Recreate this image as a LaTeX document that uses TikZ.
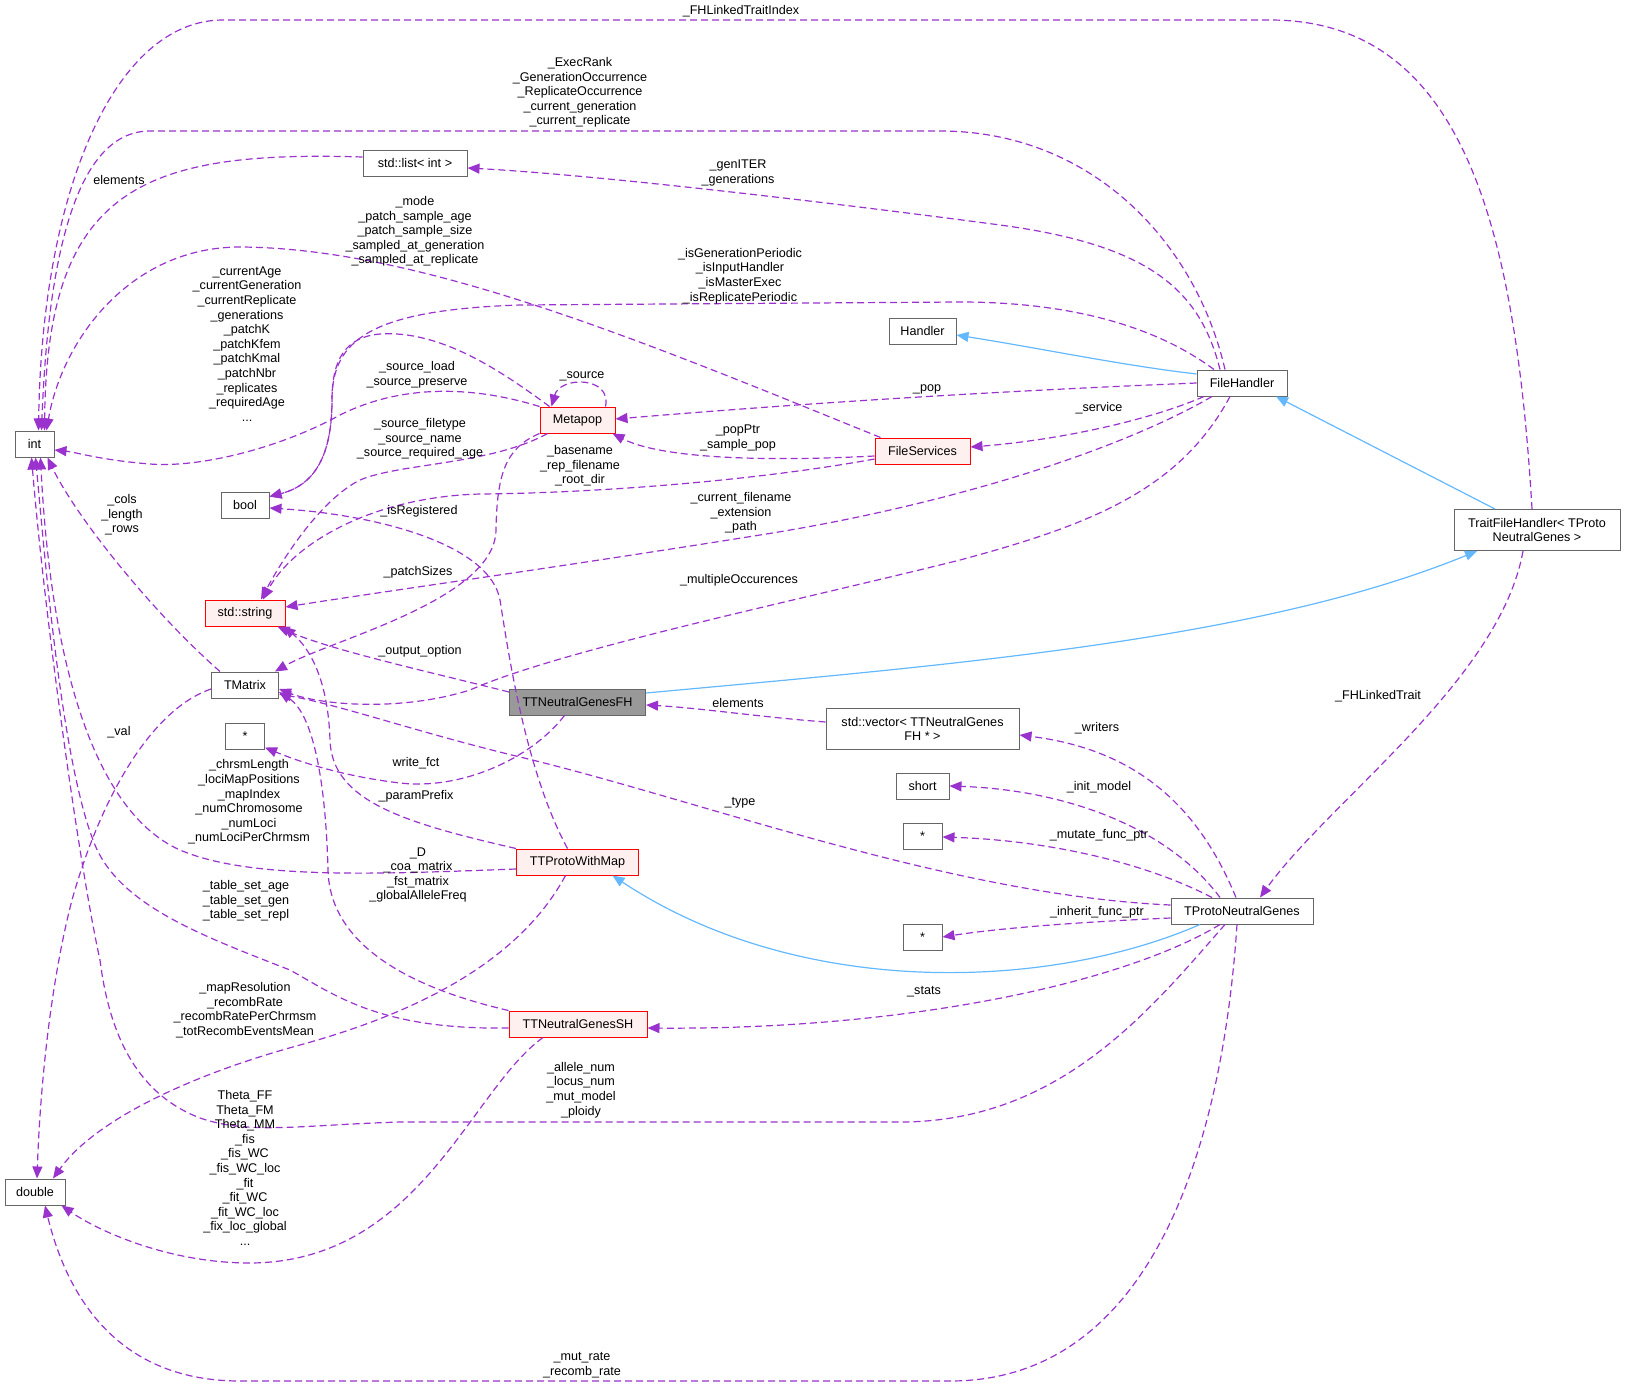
\documentclass[tikz,border=0pt]{standalone}
\usepackage{fontspec}
\setmainfont{Liberation Sans}
\usepackage{tikz}
\usetikzlibrary{arrows.meta}

\definecolor{usepurple}{HTML}{9A32CD}
\definecolor{inhblue}{HTML}{63B8FF}
\definecolor{boxgrey}{HTML}{666666}
\definecolor{undocred}{HTML}{FF0000}
\definecolor{undocfill}{HTML}{FFF0F0}
\definecolor{focusfill}{HTML}{999999}
\newcommand\dxfont{\fontsize{12.6}{14.6}\selectfont}

\begin{document}
\begin{tikzpicture}[x=1pt,y=-1pt,
    cls/.style={draw=boxgrey, fill=white, line width=1pt, font=\dxfont, inner sep=0pt, minimum height=26pt, align=center},
    undoc/.style={cls, draw=undocred, fill=undocfill},
    focus/.style={cls, fill=focusfill},
    usage/.style={draw=usepurple, line width=1.2pt, dash pattern=on 7pt off 4pt, -{Triangle[length=12pt,width=10pt]}},
    inherit/.style={draw=inhblue, line width=1.2pt, -{Triangle[length=12pt,width=10pt]}},
    lbl/.style={font=\dxfont, align=center, inner sep=0pt}]
    \useasboundingbox (0,0) rectangle (1625,1387);

    % classes
    \node[cls, minimum width=39pt] (int) at (34.5,444) {int};
    \node[cls, minimum width=60pt] (double) at (35,1192) {double};
    \node[cls, minimum width=48pt] (bool) at (245,505) {bool};
    \node[cls, minimum width=104pt] (list) at (415,163) {std::list< int >};
    \node[undoc, minimum width=80pt] (string) at (245,613) {std::string};
    \node[cls, minimum width=67pt] (tmatrix) at (245,685) {TMatrix};
    \node[cls, minimum width=39pt] (star1) at (245,736) {*};
    \node[undoc, minimum width=75pt] (metapop) at (577.5,420) {Metapop};
    \node[undoc, minimum width=95pt] (fileservices) at (922.5,451) {FileServices};
    \node[cls, minimum width=67pt] (handler) at (922.5,331) {Handler};
    \node[cls, minimum width=90pt] (filehandler) at (1242,383) {FileHandler};
    \node[cls, minimum width=166pt, minimum height=41pt] (traitfh) at (1537,530) {TraitFileHandler< TProto\\NeutralGenes >};
    \node[focus, minimum width=136pt] (ttngfh) at (577.5,702) {TTNeutralGenesFH};
    \node[cls, minimum width=193pt, minimum height=41pt] (vector) at (922.5,729) {std::vector< TTNeutralGenes\\FH * >};
    \node[cls, minimum width=53pt] (short) at (922.5,786) {short};
    \node[cls, minimum width=39pt] (star2) at (922.5,836) {*};
    \node[cls, minimum width=39pt] (star3) at (922.5,937) {*};
    \node[undoc, minimum width=122pt] (ttpwm) at (577.5,862) {TTProtoWithMap};
    \node[cls, minimum width=142pt] (tpng) at (1242,911) {TProtoNeutralGenes};
    \node[undoc, minimum width=138pt] (ttngsh) at (578,1024) {TTNeutralGenesSH};

    % inheritance
    \draw[inherit] ([yshift=9]filehandler.west) .. controls (1120,365) and (1050,350) .. ([yshift=-4]handler.east);
    \draw[inherit] ([xshift=-42]traitfh.north) -- ([xshift=34]filehandler.south);
    \draw[inherit] ([yshift=9]ttngfh.east) .. controls (950,665) and (1260,640) .. ([xshift=-60]traitfh.south);
    \draw[inherit] ([xshift=-42]tpng.south) .. controls (1050,990) and (800,1000) .. ([xshift=35]ttpwm.south);

    % usage into int
    \draw[usage] ([xshift=-5]traitfh.north) .. controls (1515,220) and (1460,20) .. (1270,20) -- (223,20) .. controls (115,20) and (42,190) .. ([xshift=4]int.north);
    \draw[usage] ([xshift=-17]filehandler.north) .. controls (1195,240) and (1090,131) .. (940,131) -- (150,131) .. controls (75,131) and (48,260) .. ([xshift=7]int.north);
    \draw[usage] ([yshift=6]list.west) .. controls (140,150) and (47,190) .. ([xshift=10]int.north);
    \draw[usage] ([xshift=-42]fileservices.north) .. controls (640,340) and (420,248) .. (240,247) .. controls (130,247) and (62,340) .. ([xshift=12]int.north);
    \draw[usage] (metapop.north west) .. controls (470,385) and (400,385) .. (340,415) .. controls (280,448) and (200,468) .. (150,464) .. controls (100,460) and (75,452) .. ([yshift=-6]int.east);
    \draw[usage] ([xshift=-25]tmatrix.north) .. controls (150,610) and (75,515) .. ([xshift=13]int.south);
    \draw[usage] ([yshift=-7]ttpwm.west) .. controls (380,874) and (250,880) .. (180,850) .. controls (90,810) and (50,650) .. ([xshift=6]int.south);
    \draw[usage] ([yshift=-4]ttngsh.west) .. controls (380,1030) and (335,995) .. (290,970) .. controls (200,935) and (120,905) .. (95,845) .. controls (62,765) and (45,560) .. ([xshift=1]int.south);
    \draw[usage] ([xshift=-17]tpng.south) .. controls (1150,1010) and (1060,1122) .. (900,1122) -- (400,1122) .. controls (300,1125) and (250,1135) .. (200,1118) .. controls (140,1095) and (110,1040) .. (100,960) .. controls (80,870) and (45,620) .. ([xshift=-3]int.south);

    % usage into list, bool, string, tmatrix
    \draw[usage] ([xshift=-22]filehandler.north) .. controls (1200,290) and (1150,245) .. (1000,225) .. controls (850,205) and (600,175) .. ([yshift=-5]list.east);
    \draw[usage] ([xshift=-28]filehandler.north) .. controls (1150,322) and (1060,302) .. (960,302) -- (520,305) .. controls (370,310) and (332,340) .. (332,400) .. controls (332,455) and (315,485) .. ([yshift=-5]bool.north east);
    \draw[usage] ([xshift=-28]metapop.north) .. controls (500,370) and (440,330) .. (380,334) .. controls (345,337) and (332,360) .. (332,400) .. controls (332,455) and (315,485) .. ([yshift=-5]bool.north east);
    \draw[usage] ([xshift=-10]ttpwm.north) .. controls (525,770) and (508,650) .. (500,600) .. controls (490,545) and (380,515) .. ([yshift=-3]bool.east);
    \draw[usage] ([xshift=-30]metapop.south) .. controls (490,465) and (400,463) .. (360,480) .. controls (320,500) and (282,560) .. ([xshift=16]string.north);
    \draw[usage] ([yshift=-8]fileservices.west) .. controls (760,480) and (600,493) .. (480,494) .. controls (370,497) and (292,545) .. ([xshift=18]string.north);
    \draw[usage] ([xshift=-30]filehandler.south) .. controls (1120,450) and (950,505) .. (760,535) .. controls (560,567) and (380,592) .. ([yshift=6]string.east);
    \draw[usage] ([yshift=10]ttngfh.west) .. controls (430,672) and (330,650) .. ([xshift=-8]string.south east);
    \draw[usage] (ttpwm.north west) .. controls (400,822) and (332,800) .. (330,740) .. controls (328,680) and (310,648) .. ([xshift=-2]string.south east);
    \draw[usage] (metapop.south west) .. controls (505,448) and (497,475) .. (496,530) .. controls (495,600) and (330,640) .. ([xshift=-4]tmatrix.north east);
    \draw[usage] ([xshift=-12]filehandler.south) .. controls (1180,490) and (1090,525) .. (960,560) .. controls (800,600) and (560,650) .. (470,690) .. controls (400,712) and (320,705) .. ([yshift=-4]tmatrix.east);
    \draw[usage] ([yshift=6]tpng.west) .. controls (950,895) and (700,800) .. (520,757) .. controls (420,733) and (340,705) .. ([yshift=-9]tmatrix.east);
    \draw[usage] (ttngsh.north west) .. controls (420,990) and (330,950) .. (328,870) .. controls (326,790) and (315,715) .. ([yshift=-7]tmatrix.east);

    % usage into metapop, fileservices
    \draw[usage] ([xshift=28]metapop.north) .. controls (612,376) and (560,376) .. ([xshift=-26]metapop.north);
    \draw[usage] (filehandler.west) .. controls (950,393) and (760,407) .. ([yshift=1]metapop.east);
    \draw[usage] ([yshift=-5]fileservices.west) .. controls (760,462) and (660,458) .. ([xshift=-3]metapop.south east);
    \draw[usage] ([xshift=-38]filehandler.south) .. controls (1150,420) and (1060,440) .. ([yshift=4]fileservices.east);

    % usage from the genes classes
    \draw[usage] ([yshift=7]vector.west) .. controls (760,717) and (700,708) .. ([yshift=-3]ttngfh.east);
    \draw[usage] ([xshift=-13]ttngfh.south) .. controls (530,760) and (460,790) .. (400,783) .. controls (340,776) and (295,760) .. ([yshift=2]star1.south east);
    \draw[usage] ([xshift=-14]traitfh.south) .. controls (1500,680) and (1330,800) .. ([xshift=18]tpng.north);
    \draw[usage] ([xshift=-6]tpng.north) .. controls (1200,810) and (1140,750) .. ([yshift=-6]vector.east);
    \draw[usage] ([xshift=-22]tpng.north) .. controls (1170,830) and (1070,790) .. (short.east);
    \draw[usage] ([xshift=-30]tpng.north) .. controls (1140,860) and (1040,840) .. ([yshift=-1]star2.east);
    \draw[usage] ([yshift=-7]tpng.west) .. controls (1080,922) and (1000,928) .. (star3.east);
    \draw[usage] ([xshift=-22]tpng.south) .. controls (1120,985) and (900,1030) .. ([yshift=-4]ttngsh.east);

    % usage into double
    \draw[usage] ([yshift=-4]tmatrix.west) .. controls (150,710) and (100,800) .. (72,900) .. controls (50,985) and (40,1090) .. ([xshift=2]double.north);
    \draw[usage] ([xshift=-12]ttpwm.south) .. controls (520,960) and (420,1012) .. (300,1045) .. controls (190,1075) and (95,1120) .. ([xshift=18]double.north);
    \draw[usage] ([xshift=-35]ttngsh.south) .. controls (470,1090) and (420,1262) .. (250,1263) .. controls (170,1263) and (100,1232) .. ([xshift=-4]double.south east);
    \draw[usage] ([xshift=-5]tpng.south) .. controls (1222,1150) and (1150,1381) .. (950,1381) -- (240,1381) .. controls (120,1381) and (68,1300) .. ([xshift=10]double.south);

    % member labels
    \node[lbl] (l-fhindex) at (741,11) {\_FHLinkedTraitIndex};
    \node[lbl] (l-execrank) at (580,92.5) {\_ExecRank\\\_GenerationOccurrence\\\_ReplicateOccurrence\\\_current\_generation\\\_current\_replicate};
    \node[lbl] (l-elemlist) at (119,180) {elements};
    \node[lbl] (l-genitr) at (738,173) {\_genITER\\\_generations};
    \node[lbl] (l-mode) at (415,231.5) {\_mode\\\_patch\_sample\_age\\\_patch\_sample\_size\\\_sampled\_at\_generation\\\_sampled\_at\_replicate};
    \node[lbl] (l-isgen) at (740,276) {\_isGenerationPeriodic\\\_isInputHandler\\\_isMasterExec\\\_isReplicatePeriodic};
    \node[lbl] (l-curage) at (247,344) {\_currentAge\\\_currentGeneration\\\_currentReplicate\\\_generations\\\_patchK\\\_patchKfem\\\_patchKmal\\\_patchNbr\\\_replicates\\\_requiredAge\\...};
    \node[lbl] (l-srcload) at (417,375) {\_source\_load\\\_source\_preserve};
    \node[lbl] (l-source) at (582,376) {\_source};
    \node[lbl] (l-pop) at (927,389) {\_pop};
    \node[lbl] (l-service) at (1099,408) {\_service};
    \node[lbl] (l-popptr) at (738,438) {\_popPtr\\\_sample\_pop};
    \node[lbl] (l-srcfile) at (420,439) {\_source\_filetype\\\_source\_name\\\_source\_required\_age};
    \node[lbl] (l-basename) at (580,466) {\_basename\\\_rep\_filename\\\_root\_dir};
    \node[lbl] (l-isreg) at (419,511) {\_isRegistered};
    \node[lbl] (l-curfile) at (741,513) {\_current\_filename\\\_extension\\\_path};
    \node[lbl] (l-cols) at (122,515) {\_cols\\\_length\\\_rows};
    \node[lbl] (l-patchsz) at (418,572) {\_patchSizes};
    \node[lbl] (l-multocc) at (739,580) {\_multipleOccurences};
    \node[lbl] (l-output) at (420,651) {\_output\_option};
    \node[lbl] (l-fhlinked) at (1378,696) {\_FHLinkedTrait};
    \node[lbl] (l-elemvec) at (738,703) {elements};
    \node[lbl] (l-writers) at (1097,728) {\_writers};
    \node[lbl] (l-val) at (119,732) {\_val};
    \node[lbl] (l-writefct) at (416,763) {write\_fct};
    \node[lbl] (l-initmodel) at (1099,787) {\_init\_model};
    \node[lbl] (l-paramprefix) at (416,796) {\_paramPrefix};
    \node[lbl] (l-chrsm) at (249,802) {\_chrsmLength\\\_lociMapPositions\\\_mapIndex\\\_numChromosome\\\_numLoci\\\_numLociPerChrmsm};
    \node[lbl] (l-type) at (740,803) {\_type};
    \node[lbl] (l-mutfunc) at (1099,835) {\_mutate\_func\_ptr};
    \node[lbl] (l-coa) at (418,875) {\_D\\\_coa\_matrix\\\_fst\_matrix\\\_globalAlleleFreq};
    \node[lbl] (l-tableset) at (246,901) {\_table\_set\_age\\\_table\_set\_gen\\\_table\_set\_repl};
    \node[lbl] (l-inhfunc) at (1097,912) {\_inherit\_func\_ptr};
    \node[lbl] (l-stats) at (924,992) {\_stats};
    \node[lbl] (l-mapres) at (245,1010) {\_mapResolution\\\_recombRate\\\_recombRatePerChrmsm\\\_totRecombEventsMean};
    \node[lbl] (l-allele) at (581,1090) {\_allele\_num\\\_locus\_num\\\_mut\_model\\\_ploidy};
    \node[lbl] (l-theta) at (245,1168) {Theta\_FF\\Theta\_FM\\Theta\_MM\\\_fis\\\_fis\_WC\\\_fis\_WC\_loc\\\_fit\\\_fit\_WC\\\_fit\_WC\_loc\\\_fix\_loc\_global\\...};
    \node[lbl] (l-mutrate) at (582,1365) {\_mut\_rate\\\_recomb\_rate};
\end{tikzpicture}
\end{document}
